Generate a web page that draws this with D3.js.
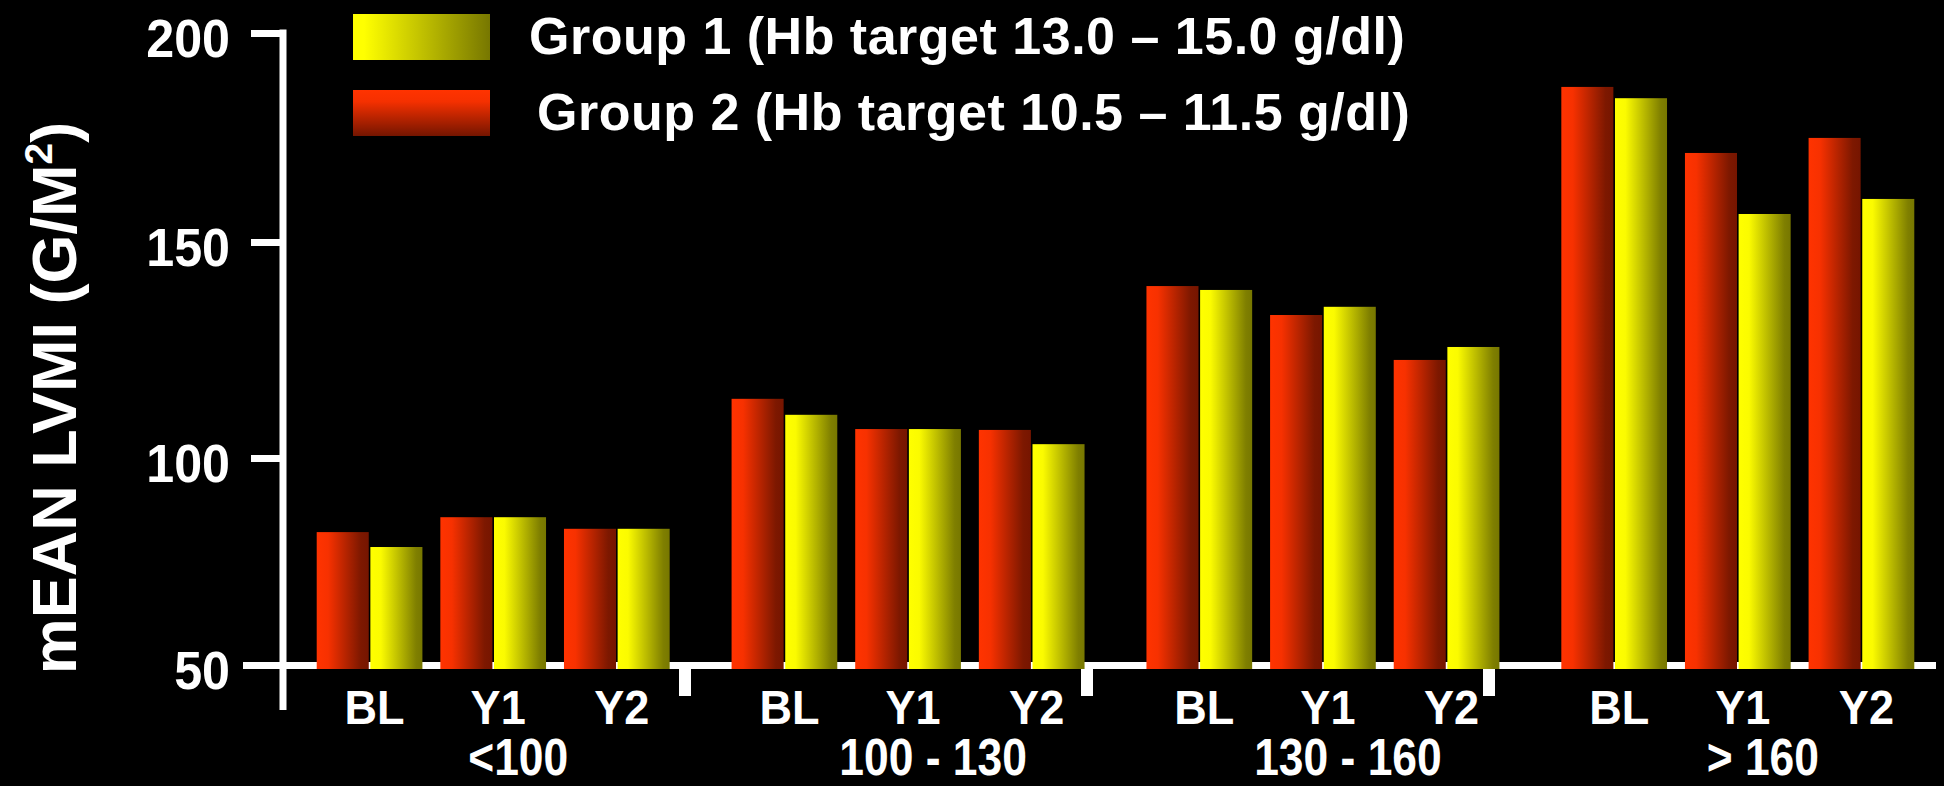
<!DOCTYPE html>
<html>
<head>
<meta charset="utf-8">
<script src="https://cdn.jsdelivr.net/npm/d3@7"></script>
<style>
  html, body { margin: 0; padding: 0; background: #000; }
  svg { display: block; }
  text { font-family: "Liberation Sans", Arial, Helvetica, sans-serif; font-weight: bold; fill: #fff; }
</style>
</head>
<body>
<svg id="chart" width="1944" height="786"></svg>
<script>
// LVMI categories (g/m²) and follow-up time points
const groups = ["<100", "100 - 130", "130 - 160", "> 160"];
const periods = ["BL", "Y1", "Y2"];
const seriesKeys = ["g2", "g1"];
const legendLabels = ["Group 1 (Hb target 13.0 – 15.0 g/dl)", "Group 2 (Hb target 10.5 – 11.5 g/dl)"];

// Mean LVMI per category, ordered BL, Y1, Y2
const group2Values = [
  [82.1, 85.7, 82.9],
  [113.7, 106.7, 106.5],
  [139.8, 133.1, 122.7],
  [187.1, 171.3, 174.9]
];
const group1Values = [
  [78.5, 85.7, 82.9],
  [110.0, 106.7, 103.2],
  [138.9, 135.0, 125.7],
  [184.4, 156.7, 160.3]
];
const yTicks = [50, 100, 150, 200];

const svg = d3.select("#chart");
const W = 1944, H = 786;
svg.append("rect").attr("width", W).attr("height", H).attr("fill", "#000");

// ---- gradients ----
const defs = svg.append("defs");
function grad(id, vertical, stops) {
  const g = defs.append("linearGradient").attr("id", id)
    .attr("x1", 0).attr("y1", 0).attr("x2", vertical ? 0 : 1).attr("y2", vertical ? 1 : 0);
  stops.forEach(([o, c]) => g.append("stop").attr("offset", o).attr("stop-color", c));
}
grad("redBar", false, [[0, "#ff3300"], [0.22, "#f73100"], [0.85, "#7d1800"], [1, "#761500"]]);
grad("yellowBar", false, [[0, "#ffff00"], [0.2, "#fbfb00"], [0.88, "#7f7f00"], [1, "#777700"]]);
grad("redLegend", true, [[0, "#ff3300"], [0.25, "#f53000"], [1, "#741500"]]);
grad("yellowLegend", false, [[0, "#ffff00"], [0.08, "#ffff00"], [1, "#777700"]]);
const fillFor = { g2: "url(#redBar)", g1: "url(#yellowBar)" };

// ---- scales ----
const y = d3.scaleLinear().domain(yTicks).range([665, 458, 242, 33]);
const axisX = 283;
const baseY = y(50);
const lineW = 7;

const x0 = d3.scaleBand().domain(groups).range([axisX + 4, W]).paddingInner(0.106).paddingOuter(0.05);
const x1 = d3.scaleBand().domain(periods).range([0, x0.bandwidth()]).paddingInner(0.145).paddingOuter(0.0725);
const x2 = d3.scaleBand().domain(seriesKeys).range([0, x1.bandwidth()]).paddingInner(0.03);
// category separators along the x axis
const sep = d3.scaleBand().domain(groups).range([axisX, 1891]);

// ---- y axis ----
const yAxis = d3.axisLeft(y).tickValues(yTicks).tickSize(32).tickSizeOuter(0).tickPadding(21);
const ya = svg.append("g").attr("transform", `translate(${axisX},0)`).call(yAxis);
ya.select(".domain").remove();
ya.selectAll(".tick line").attr("stroke", "#fff").attr("stroke-width", lineW);
ya.selectAll(".tick text")
  .attr("fill", "#fff")
  .attr("font-size", 54)
  .attr("font-family", "Liberation Sans, Arial, sans-serif")
  .attr("font-weight", "bold")
  .attr("x", null)
  .attr("dy", "0.43em")
  .attr("transform", "translate(-53,0) scale(0.93,1)");

svg.append("line")
  .attr("x1", axisX).attr("x2", axisX)
  .attr("y1", y(200) - lineW / 2).attr("y2", 710)
  .attr("stroke", "#fff").attr("stroke-width", lineW);

// baseline
svg.append("line")
  .attr("x1", 243).attr("x2", 1936)
  .attr("y1", baseY + 0.5).attr("y2", baseY + 0.5)
  .attr("stroke", "#fff").attr("stroke-width", lineW);

// separators between categories
svg.append("g").selectAll("rect")
  .data(groups.slice(1))
  .join("rect")
  .attr("x", d => sep(d) - 6)
  .attr("y", baseY + 4)
  .attr("width", 12)
  .attr("height", 27)
  .attr("fill", "#fff");

// ---- bars ----
const barBottom = baseY + 4;
const rows = [];
groups.forEach((g, gi) => {
  periods.forEach((p, pi) => {
    rows.push({ g, p, key: "g2", v: group2Values[gi][pi] });
    rows.push({ g, p, key: "g1", v: group1Values[gi][pi] });
  });
});
svg.append("g").selectAll("rect")
  .data(rows)
  .join("rect")
  .attr("x", d => x0(d.g) + x1(d.p) + x2(d.key))
  .attr("width", x2.bandwidth())
  .attr("y", d => y(d.v))
  .attr("height", d => barBottom - y(d.v))
  .attr("fill", d => fillFor[d.key]);

// ---- x labels ----
const periodLabels = [];
groups.forEach(g => periods.forEach(p => periodLabels.push({ g, p })));
svg.append("g").selectAll("text")
  .data(periodLabels)
  .join("text")
  .attr("transform", d => `translate(${x0(d.g) + x1(d.p) + x1.bandwidth() / 2 + 5},724) scale(0.92,1)`)
  .attr("text-anchor", "middle")
  .attr("font-size", 49)
  .text(d => d.p);

svg.append("g").selectAll("text")
  .data(groups)
  .join("text")
  .attr("transform", d => `translate(${x0(d) + x0.bandwidth() / 2 + 25},775) scale(0.87,1)`)
  .attr("text-anchor", "middle")
  .attr("font-size", 51)
  .text(d => d);

// ---- y title ----
const yt = svg.append("text")
  .attr("transform", "translate(76,398) rotate(-90)")
  .attr("text-anchor", "middle")
  .attr("font-size", 63);
yt.append("tspan").text("mEAN LVMI (G/M");
yt.append("tspan").attr("font-size", 39).attr("dy", -24).text("2");
yt.append("tspan").attr("dy", 24).text(")");

// ---- legend ----
const legendFills = ["url(#yellowLegend)", "url(#redLegend)"];
const lg = svg.append("g");
const legRows = lg.selectAll("g")
  .data(legendLabels)
  .join("g")
  .attr("transform", (d, i) => `translate(353,${14 + i * 76})`);
legRows.append("rect")
  .attr("width", 137).attr("height", 46)
  .attr("fill", (d, i) => legendFills[i]);
legRows.append("text")
  .attr("x", (d, i) => 176 + i * 8)
  .attr("y", 40)
  .attr("font-size", 52)
  .attr("letter-spacing", 0.5)
  .text(d => d);
</script>
</body>
</html>
